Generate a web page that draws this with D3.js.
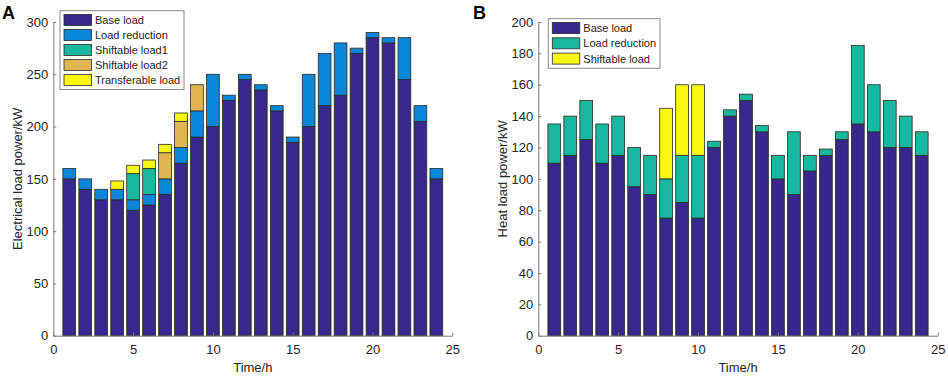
<!DOCTYPE html>
<html>
<head>
<meta charset="utf-8">
<script src="https://cdn.jsdelivr.net/npm/d3@7"></script>
<style>
  html, body { margin: 0; padding: 0; background: #fff; }
  svg { display: block; font-family: "Liberation Sans", Arial, Helvetica, sans-serif; }
</style>
</head>
<body>
<svg id="chart" width="948" height="376"></svg>
<script>
// ---------- DATA ----------
const hours = [1,2,3,4,5,6,7,8,9,10,11,12,13,14,15,16,17,18,19,20,21,22,23,24];

// Panel A: electrical load (kW)
const elecSeriesNames = ["Base load", "Load reduction", "Shiftable load1", "Shiftable load2", "Transferable load"];
const elecBase      = [150,140,130,130,120,125,135,165,190,200,225,245,235,215,185,200,220,230,270,285,280,245,205,150];
const elecReduction = [10,10,10,10,10,10,15,15,25,50,5,5,5,5,5,50,50,50,5,5,5,40,15,10];
const elecShift1    = [0,0,0,0,25,25,0,0,0,0,0,0,0,0,0,0,0,0,0,0,0,0,0,0];
const elecShift2    = [0,0,0,0,0,0,25,25,25,0,0,0,0,0,0,0,0,0,0,0,0,0,0,0];
const elecTransfer  = [0,0,0,8,8,8,8,8,0,0,0,0,0,0,0,0,0,0,0,0,0,0,0,0];
const elecYTicks = [0,50,100,150,200,250,300];

// Panel B: heat load (kW)
const heatSeriesNames = ["Base load", "Load reduction", "Shiftable load"];
const heatBase      = [110,115,125,110,115,95,90,75,85,75,120,140,150,130,100,90,105,115,125,135,130,120,120,115];
const heatReduction = [25,25,25,25,25,25,25,25,30,40,4,4,4,4,15,40,10,4,5,50,30,30,20,15];
const heatShift     = [0,0,0,0,0,0,0,45,45,45,0,0,0,0,0,0,0,0,0,0,0,0,0,0];
const heatYTicks = [0,20,40,60,80,100,120,140,160,180,200];

const xTicks = [0,5,10,15,20,25];

const cBase = "#38288c", cBlue = "#0a86d9", cTeal = "#17b89e", cGold = "#dfb652", cYellow = "#f8f70f";

// ---------- DRAW ----------
const svg = d3.select("#chart");
const textColor = "#262626", axisColor = "#7a7a7a";

function panel(opt) {
  const g = svg.append("g");
  const x = d3.scaleLinear().domain([0, 25]).range([opt.x0, opt.x1]);
  const y = d3.scaleLinear().domain([0, opt.yMax]).range([opt.yBottom, opt.yTop]);

  // stacked data
  const rows = hours.map((h, i) => {
    const r = { hour: h };
    opt.series.forEach((s, k) => r[k] = s[i]);
    return r;
  });
  const keys = opt.series.map((s, k) => k);
  const stacked = d3.stack().keys(keys)(rows);
  const bw = x(0.8) - x(0);

  stacked.forEach((layer, k) => {
    g.append("g").selectAll("rect")
      .data(layer.filter(d => d[1] - d[0] > 0))
      .join("rect")
      .attr("x", d => x(d.data.hour) - bw / 2)
      .attr("width", bw)
      .attr("y", d => y(d[1]))
      .attr("height", d => y(d[0]) - y(d[1]))
      .attr("fill", opt.colors[k])
      .attr("stroke", "#2a2a2a")
      .attr("stroke-width", 0.8);
  });

  // axes
  const ax = g.append("g").attr("transform", `translate(0,${opt.yBottom})`)
    .call(d3.axisBottom(x).tickValues(xTicks).tickSizeInner(-3).tickSizeOuter(0).tickPadding(9));
  const ay = g.append("g").attr("transform", `translate(${opt.x0},0)`)
    .call(d3.axisLeft(y).tickValues(opt.yTicks).tickSizeInner(-3).tickSizeOuter(0).tickPadding(5));
  [ax, ay].forEach(a => {
    a.select(".domain").attr("stroke", axisColor);
    a.selectAll(".tick line").attr("stroke", axisColor);
    a.selectAll(".tick text").attr("fill", textColor).style("font-size", "13px")
      .style("font-family", '"Liberation Sans", Arial, sans-serif');
  });

  // axis titles
  g.append("text").attr("x", (opt.x0 + opt.x1) / 2).attr("y", 372)
    .attr("text-anchor", "middle").attr("fill", textColor).style("font-size", "13px")
    .text("Time/h");
  g.append("text")
    .attr("transform", `translate(${opt.yLabelX},${(opt.yTop + opt.yBottom) / 2}) rotate(-90)`)
    .attr("text-anchor", "middle").attr("dy", "0.35em").attr("fill", textColor).style("font-size", "13px")
    .text(opt.yLabel);

  // panel letter
  g.append("text").attr("x", opt.letterX).attr("y", 19)
    .attr("fill", "#000").style("font-size", "18px").style("font-weight", "bold")
    .text(opt.letter);

  // legend
  const L = opt.legend;
  const lg = g.append("g");
  lg.append("rect").attr("x", L.x).attr("y", L.y).attr("width", L.w).attr("height", L.h)
    .attr("fill", "#fff").attr("stroke", "#8a8a8a").attr("stroke-width", 1);
  opt.names.forEach((n, k) => {
    const cy = L.y + L.first + k * L.step;
    lg.append("rect").attr("x", L.x + 4).attr("y", cy - 5.5).attr("width", 27.5).attr("height", 11)
      .attr("fill", opt.colors[k]).attr("stroke", "#2a2a2a").attr("stroke-width", 0.8);
    lg.append("text").attr("x", L.x + 35).attr("y", cy).attr("dy", "0.36em")
      .attr("fill", textColor).style("font-size", "11px").text(n);
  });
}

panel({
  x0: 53.3, x1: 452.3, yBottom: 335.7, yTop: 22, yMax: 300,
  series: [elecBase, elecReduction, elecShift1, elecShift2, elecTransfer],
  names: elecSeriesNames,
  colors: [cBase, cBlue, cTeal, cGold, cYellow],
  yTicks: elecYTicks,
  yLabel: "Electrical load power/kW", yLabelX: 17,
  letter: "A", letterX: 2,
  legend: { x: 60, y: 10.7, w: 124, h: 78.8, first: 9.3, step: 15 }
});

panel({
  x0: 538.3, x1: 937.7, yBottom: 335.7, yTop: 22, yMax: 200,
  series: [heatBase, heatReduction, heatShift],
  names: heatSeriesNames,
  colors: [cBase, cTeal, cYellow],
  yTicks: heatYTicks,
  yLabel: "Heat load power/kW", yLabelX: 502,
  letter: "B", letterX: 473,
  legend: { x: 548.3, y: 18.7, w: 111.7, h: 49.6, first: 9.3, step: 15.3 }
});
</script>
</body>
</html>
